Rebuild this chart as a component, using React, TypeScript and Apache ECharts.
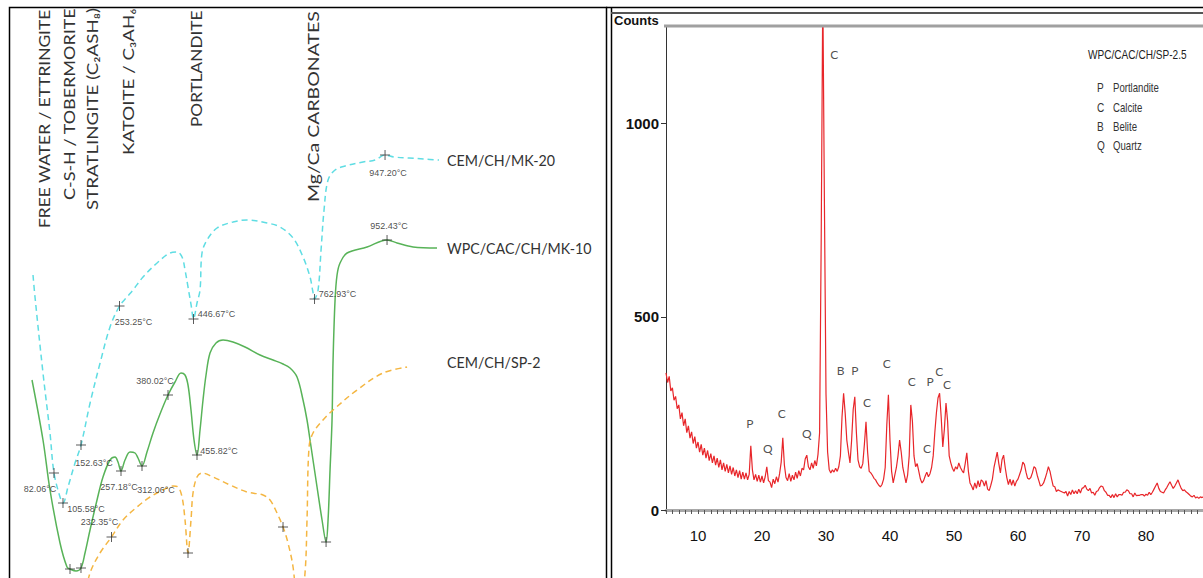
import React, { useEffect, useRef } from "react";
import * as echarts from "echarts";

// ---------- LEFT PANEL: DTG curves [temperature °C, DTG signal (a.u., offset per curve)] ----------
const CEM_CH_MK20: [number, number][] = [
  [27.2, 303], [32.4, 281], [53.3, 205], [71.6, 145], [82.06, 105], [97.8, 81], [105.58, 75],
  [118.6, 91], [137.0, 115], [152.63, 133], [176.4, 175], [202.5, 215], [228.5, 251], [253.25, 272],
  [273.0, 281], [288.6, 288], [314.7, 301], [351.3, 315], [385.3, 325], [403.6, 326], [416.7, 321],
  [424.5, 308], [432.3, 291], [440.8, 272], [446.67, 259], [455.8, 275], [463.7, 288], [468.9, 325],
  [482.0, 338], [508.1, 350], [549.9, 356], [586.5, 358], [638.8, 355], [672.8, 351], [706.8, 340],
  [732.9, 321], [751.2, 301], [758.3, 287], [762.93, 279], [772.2, 288], [780.0, 328], [787.8, 368],
  [798.3, 398], [816.6, 408], [842.7, 412], [889.8, 416], [921.1, 418], [947.2, 423], [970.7, 421],
  [1009.9, 420], [1049.1, 419], [1088.3, 418],
];
const WPC_CAC_CH_MK10: [number, number][] = [
  [24.6, 198], [53.3, 138], [71.6, 88], [97.8, 35], [116.0, 11], [123.9, 9], [139.6, 7], [152.6, 10],
  [163.1, 25], [176.2, 48], [194.5, 78], [210.1, 101], [228.4, 118], [241.5, 121], [249.3, 116],
  [257.18, 107], [267.6, 118], [280.7, 126], [293.8, 125], [301.6, 120], [312.06, 112], [325.1, 126],
  [340.8, 145], [359.1, 164], [380.02, 183], [398.3, 196], [414.0, 205], [424.4, 203], [432.3, 193],
  [440.1, 168], [448.0, 138], [455.82, 123], [463.7, 148], [471.5, 178], [479.4, 203], [489.8, 225],
  [505.5, 235], [523.8, 238], [549.9, 236], [581.3, 231], [620.5, 223], [654.5, 218], [680.6, 214],
  [698.9, 210], [717.2, 201], [732.9, 178], [743.3, 158], [751.2, 138], [769.5, 91], [782.6, 58],
  [793.1, 36], [798.3, 58], [803.5, 108], [808.7, 158], [811.4, 218], [816.6, 278], [821.8, 303],
  [829.6, 315], [848.0, 325], [900.2, 331], [952.43, 338], [978.6, 335], [1020.4, 331], [1083.1, 330],
];
const CEM_CH_SP2: [number, number][] = [
  [160.7, -22], [176.2, 5], [202.3, 25], [232.35, 41], [262.4, 58], [299.0, 71], [333.0, 81],
  [367.0, 88], [393.1, 92], [406.2, 91], [416.7, 81], [424.5, 58], [432.3, 25], [440.1, 58],
  [445.4, 85], [455.8, 101], [468.9, 105], [497.6, 101], [542.1, 93], [586.5, 86], [628.3, 83],
  [646.6, 78], [664.9, 65], [680.6, 51], [693.6, 35], [706.8, 11], [722.5, -42], [738.1, 5],
  [743.3, 58], [748.6, 131], [759.0, 145], [785.1, 158], [811.4, 168], [874.1, 188], [942.1, 205],
  [1004.8, 211],
];

// peak markers: [temperature, signal, labelled 1/0]
const MK20_PEAKS: [number, number, number][] = [
  [82.06, 105, 1], [105.58, 75, 1], [152.63, 133, 1], [253.25, 272, 1], [446.67, 259, 1],
  [762.93, 279, 1], [947.2, 423, 1],
];
const MK10_PEAKS: [number, number, number][] = [
  [123.9, 9, 0], [152.6, 10, 0], [257.18, 107, 1], [312.06, 112, 1], [380.02, 183, 1],
  [455.82, 123, 1], [793.1, 36, 0], [952.43, 338, 1],
];
const SP2_PEAKS: [number, number, number][] = [
  [232.35, 41, 1], [432.3, 25, 0], [680.6, 51, 0],
];

const SERIES_NAMES = ["CEM/CH/MK-20", "WPC/CAC/CH/MK-10", "CEM/CH/SP-2"];
const ZONE_LABELS = [
  "FREE WATER / ETTRINGITE",
  "C-S-H / TOBERMORITE",
  "STRATLINGITE (C₂ASH₈)",
  "KATOITE / C₃AH₆",
  "PORTLANDITE",
  "Mg/Ca CARBONATES",
];

// ---------- RIGHT PANEL: XRD pattern ----------
const XRD_START = 5;
const XRD_STEP = 0.25;
const XRD_COUNTS = [
  355, 330, 346, 308, 316, 284, 294, 262, 272, 236, 252, 218, 236, 200, 218, 186, 202, 172, 190, 160, 176,
  150, 170, 142, 160, 134, 154, 128, 146, 122, 140, 116, 134, 110, 130, 104, 122, 100, 118, 96, 114,
  92, 110, 88, 104, 84, 102, 80, 98, 80, 96, 78, 92,
  166, 104, 78, 92,
  74, 90, 72, 88, 70, 86,
  112, 76, 72, 58, 80, 68, 86, 72, 94, 124,
  187, 116, 84, 76, 94, 74, 90, 78,
  98, 82, 102, 88, 108, 104, 132, 142,
  112, 104, 122, 108, 128, 114, 144, 200,
  700, 1350, 800, 300, 150, 105, 96, 104,
  98, 108, 100, 112, 140, 240, 302, 250,
  181, 150, 122, 180, 260, 293, 200, 130,
  112, 108, 120, 170, 228, 150, 100, 96,
  90, 82, 78, 70, 64, 60, 66, 80,
  110, 220, 298, 180, 100, 70, 90, 110,
  140, 181, 150, 110, 90, 70, 90, 140,
  272, 230, 140, 112, 120, 100, 80, 70,
  76, 88, 98, 86, 94, 110, 140, 200,
  251, 290, 302, 240, 163, 210, 277, 230,
  140, 122, 108, 100, 112, 106, 122, 110,
  102, 96, 120, 148, 100, 70, 62, 52,
  70, 56, 76, 60, 78, 74, 62, 76,
  54, 50, 64, 80, 110, 130, 150, 120,
  96, 130, 142, 110, 84, 66, 80, 64,
  78, 62, 74, 80, 92, 104, 124, 118,
  98, 82, 80, 84, 96, 112, 108, 90,
  76, 62, 64, 70, 82, 96, 112, 100,
  80, 62, 60, 48, 52, 50, 48, 46,
  44, 48, 36, 48, 40, 52, 42, 50,
  42, 54, 44, 56, 58, 64, 54, 50,
  56, 44, 46, 38, 48, 50, 58, 62,
  60, 50, 46, 38, 38, 32, 40, 32,
  42, 34, 40, 40, 38, 46, 46, 52,
  50, 42, 42, 34, 44, 37, 38, 38,
  40, 40, 36, 41, 38, 46, 40, 46,
  54, 62, 70, 56, 48, 46, 44, 52,
  58, 66, 73, 64, 56, 62, 70, 78,
  66, 56, 50, 52, 47, 44, 40, 36,
  34, 38, 31, 34, 30, 34, 32, 35,
];
// phase labels: [2θ, counts at label, phase code]
const PEAK_LABELS: [number, number, string][] = [
  [31.3, 1179, "C"], [18.1, 225, "P"], [20.9, 158, "Q"], [23.1, 249, "C"], [27.0, 197, "Q"],
  [32.3, 360, "B"], [34.5, 360, "P"], [36.4, 277, "C"], [39.5, 378, "C"], [43.4, 332, "C"],
  [45.8, 158, "C"], [46.25, 332, "P"], [47.7, 358, "C"], [48.9, 324, "C"],
];
const XRD_SAMPLE = "WPC/CAC/CH/SP-2.5";
const PHASE_CODES = ["P", "C", "B", "Q"];
const PHASE_NAMES = ["Portlandite", "Calcite", "Belite", "Quartz"];
const XRD_LAST_LABEL = 80;

// ---------- layout / styles ----------
const LABEL_OFFSETS: Record<string, [number, number]> = {
  "82.06": [-14, 16], "105.58": [23, 6], "152.63": [13, 18], "253.25": [14, 16], "446.67": [23, -5],
  "762.93": [23, -5], "947.20": [3, 18], "952.43": [2, -14], "257.18": [-2, 16], "312.06": [14, 24],
  "380.02": [-13, -14], "455.82": [22, -4], "232.35": [-12, -15],
};
const ZONE_X = [44, 70, 92, 128, 196, 313];
const ZONE_BOTTOM = [228, 200, 210, 155, 127, 202];
const ZONE_SCALE = [1.16, 1.2, 1.25, 1.25, 1.15, 1.3];
const NAME_POS: [number, number][] = [[447, 160], [447, 248], [447, 362]];
const COLORS = ["#5fdde3", "#58b358", "#f4b642"];
const LINE_TYPES = [[6, 4], "solid", [6, 4]];
const GOTHIC = "Lato, 'Noto Sans', sans-serif";
const NARROW = "'Liberation Sans Narrow', 'Arial Narrow', 'Liberation Sans', Arial, sans-serif";

const PLUS = "path://M5,0L5,10M0,5L10,5";

function markerData(peaks: [number, number, number][]) {
  return peaks.map(([t, v, lab]) => {
    const key = t.toFixed(2);
    const off = LABEL_OFFSETS[key] || [0, 0];
    return {
      value: [t, v],
      label: {
        show: lab === 1,
        formatter: `${key}°C`,
        position: "inside",
        offset: off,
      },
    };
  });
}

function txt(text: string, x: number, y: number, fontSize: number, fontFamily: string, fill: string, extra: any = {}) {
  return {
    type: "text", x, y, z: 10, ...extra,
    style: {
      text, fill, fontSize, fontFamily, fontWeight: extra.fontWeight || "normal",
      align: "left", verticalAlign: "middle", textAlign: "left", textVerticalAlign: "middle",
    },
  };
}

export default function App() {
  const ref = useRef<HTMLDivElement>(null);
  useEffect(() => {
    if (!ref.current) return;
    const chart = echarts.init(ref.current, undefined, { renderer: "svg" });
    const curves = [CEM_CH_MK20, WPC_CAC_CH_MK10, CEM_CH_SP2];
    const peaks = [MK20_PEAKS, MK10_PEAKS, SP2_PEAKS];
    const xrd = XRD_COUNTS.map((c, i) => [XRD_START + i * XRD_STEP, c]);

    const graphic: any[] = [];
    ZONE_LABELS.forEach((t, i) => {
      graphic.push(txt(t, ZONE_X[i], ZONE_BOTTOM[i], 15, GOTHIC, "#333", { rotation: Math.PI / 2, scaleX: ZONE_SCALE[i] }));
    });
    SERIES_NAMES.forEach((t, i) => {
      graphic.push(txt(t, NAME_POS[i][0], NAME_POS[i][1], 15, GOTHIC, "#333", { scaleX: 0.95 }));
    });
    // mask above panels + borders
    graphic.push({ type: "rect", z: 20, shape: { x: 0, y: 0, width: 1203, height: 7 }, style: { fill: "#fff" } });
    graphic.push({ type: "rect", z: 30, shape: { x: 9.5, y: 7.5, width: 597, height: 600 }, style: { fill: "none", stroke: "#000", lineWidth: 1.5 } });
    graphic.push({ type: "line", z: 30, shape: { x1: 606, y1: 7.5, x2: 1203, y2: 7.5 }, style: { stroke: "#000", lineWidth: 1.5 } });
    graphic.push({ type: "line", z: 30, shape: { x1: 611.5, y1: 7, x2: 611.5, y2: 578 }, style: { stroke: "#000", lineWidth: 1.5 } });
    graphic.push({ type: "line", z: 30, shape: { x1: 611, y1: 13, x2: 1203, y2: 13 }, style: { stroke: "#555", lineWidth: 2 } });
    graphic.push({ type: "line", z: 30, shape: { x1: 664, y1: 26, x2: 1203, y2: 26 }, style: { stroke: "#a0a0a0", lineWidth: 3 } });
    // XRD texts
    graphic.push(txt("Counts", 614, 20, 13, NARROW, "#111", { fontWeight: "bold" }));
    graphic.push(txt(XRD_SAMPLE, 1088, 55, 12, NARROW, "#222", { scaleX: 0.84 }));
    PHASE_CODES.forEach((c, i) => {
      const y = 88 + i * 19.3;
      graphic.push(txt(c, 1097, y, 12, NARROW, "#333", { scaleX: 0.84 }));
      graphic.push(txt(PHASE_NAMES[i], 1113, y, 12, NARROW, "#333", { scaleX: 0.8 }));
    });

    const series: any[] = [];
    curves.forEach((d, i) => {
      series.push({
        type: "line", name: SERIES_NAMES[i], xAxisIndex: 0, yAxisIndex: 0, data: d,
        showSymbol: false, smooth: 0.35, clip: true,
        lineStyle: { color: COLORS[i], width: 1.5, type: LINE_TYPES[i] },
        z: 2,
      });
    });
    peaks.forEach((p) => {
      series.push({
        type: "scatter", xAxisIndex: 0, yAxisIndex: 0, data: markerData(p),
        symbol: PLUS, symbolSize: 10,
        itemStyle: { color: "none", borderColor: "#333", borderWidth: 1 },
        label: { fontSize: 9, color: "#1a1a1a", fontFamily: "'Liberation Sans', Arial, sans-serif" },
        z: 5,
      });
    });
    series.push({
      type: "line", name: XRD_SAMPLE, xAxisIndex: 1, yAxisIndex: 1, data: xrd,
      showSymbol: false, clip: true,
      lineStyle: { color: "#e8262a", width: 1.2 },
      z: 2,
    });
    series.push({
      type: "scatter", xAxisIndex: 1, yAxisIndex: 1,
      data: PEAK_LABELS.map(([t, c, code]) => ({ value: [t, c], name: code })),
      symbolSize: 1, itemStyle: { color: "transparent" },
      label: { show: true, position: "inside", formatter: "{b}", fontSize: 12, color: "#222", fontFamily: GOTHIC },
      z: 5,
    });

    chart.setOption({
      animation: false,
      backgroundColor: "#fff",
      grid: [
        { left: 22.6, top: 0, width: 420.9, height: 578, outerBoundsMode: "none" },
        { left: 666, top: 27, width: 544, height: 483, outerBoundsMode: "none" },
      ],
      xAxis: [
        { type: "value", gridIndex: 0, min: 0, max: 1100, show: false },
        {
          type: "value", gridIndex: 1, min: 5, max: 90, interval: 1,
          axisLine: { show: true, onZero: false, lineStyle: { color: "#a8a8a8", width: 3 } },
          axisTick: { show: true, length: 4, lineStyle: { color: "#555", width: 1 } },
          axisLabel: {
            fontSize: 15, color: "#111", margin: 18, fontFamily: NARROW,
            formatter: (v: number) => {
              const r = Math.round(v);
              return r % 10 === 0 && r <= XRD_LAST_LABEL ? String(r) : "";
            },
          },
          splitLine: { show: false },
        },
      ],
      yAxis: [
        { type: "value", gridIndex: 0, min: 0, max: 578, show: false },
        {
          type: "value", gridIndex: 1, min: 0, max: 1250, interval: 500,
          axisLine: { show: true, lineStyle: { color: "#333", width: 1 } },
          axisTick: { show: true, length: 5, lineStyle: { color: "#333" } },
          axisLabel: {
            fontSize: 15, color: "#111", margin: 7, fontWeight: "bold", fontFamily: NARROW, showMaxLabel: false,
            formatter: (v: number) => (v % 500 === 0 ? String(v) : ""),
          },
          splitLine: { show: false },
        },
      ],
      graphic,
      series,
    });
    return () => chart.dispose();
  }, []);
  return (
    <div
      ref={ref}
      style={{ position: "fixed", left: 0, top: 0, width: 1203, height: 578, background: "#fff" }}
    />
  );
}
